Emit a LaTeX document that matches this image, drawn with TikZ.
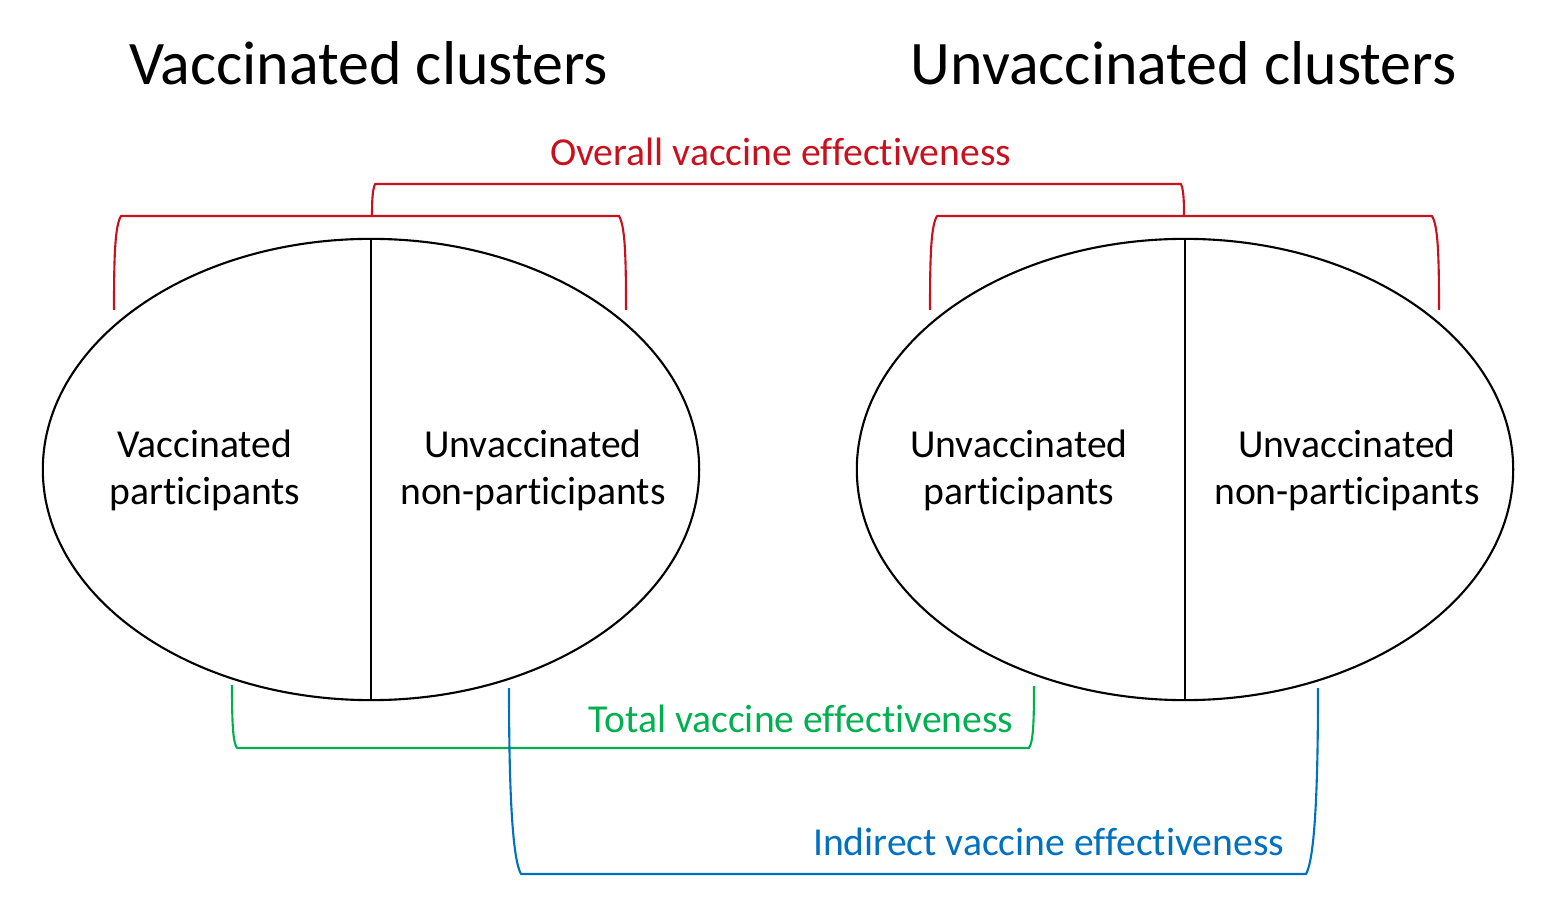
\documentclass[tikz,border=0pt]{standalone}
\usepackage{fontspec}
\setmainfont{Carlito}[Ligatures={NoCommon,NoContextual},Contextuals=NoAlternate,RawFeature=-dlig]
\usetikzlibrary{shapes.geometric}
\definecolor{ovred}{RGB}{200,16,30}
\definecolor{totgreen}{RGB}{0,176,80}
\definecolor{indblue}{RGB}{0,112,192}
\tikzset{
  cluster/.style={draw=black, line width=0.6pt, ellipse, minimum width=6.56cm, minimum height=4.61cm, inner sep=0pt},
  divider/.style={draw=black, line width=0.6pt},
  title/.style={anchor=base, inner sep=0pt, font=\fontsize{17.6}{20}\selectfont},
  group/.style={anchor=base, inner sep=0pt, align=center, font=\fontsize{11.27}{13.4}\selectfont},
  label/.style={anchor=base, inner sep=0pt, font=\fontsize{11.27}{13.4}\selectfont},
  bracket/.style={line width=0.6pt, line join=round}
}
\begin{document}
\begin{tikzpicture}[x=0.01cm, y=-0.01cm]
\useasboundingbox (0,0) rectangle (1558,922);
% clusters
\node[cluster] (e1) at (371,469.5) {};
\node[cluster] (e2) at (1185,469.5) {};
\draw[divider] (e1.north) -- (e1.south);
\draw[divider] (e2.north) -- (e2.south);
% titles
\node[title] (t1) at (368.5,85) {Vaccinated clusters};
\node[title] (t2) at (1183.5,85) {Unvaccinated clusters};
% group texts (base anchor = baseline of the last line)
\node[group] (g1) at (205,505) {Vaccinated\\participants};
\node[group] (g2) at (533,505) {Unvaccinated\\non-participants};
\node[group] (g3) at (1019,505) {Unvaccinated\\participants};
\node[group] (g4) at (1347,505) {Unvaccinated\\non-participants};
% labels
\node[label, text=ovred] (lo) at (780.5,166) {Overall vaccine effectiveness};
\node[label, text=totgreen] (lt) at (801,732) {Total vaccine effectiveness};
\node[label, text=indblue] (li) at (1048.5,855) {Indirect vaccine effectiveness};
% red brackets
\draw[bracket, ovred] (114,310) .. controls (114,255) and (115,226) .. (121,216)
  -- (619,216) .. controls (625,226) and (626,255) .. (626,310);
\draw[bracket, ovred] (930,310) .. controls (930,255) and (931,226) .. (937,216)
  -- (1432,216) .. controls (1438,226) and (1439,255) .. (1439,310);
\draw[bracket, ovred] (372,216) .. controls (372,200) and (372.5,190) .. (375,184)
  -- (1181,184) .. controls (1183.5,190) and (1184,200) .. (1184,216);
% green bracket
\draw[bracket, totgreen] (232,685) .. controls (232,725) and (233,742) .. (237,748)
  -- (1029,748) .. controls (1033,742) and (1034,725) .. (1034,686);
% blue bracket
\draw[bracket, indblue] (509,688) .. controls (509,800) and (513,860) .. (521,874)
  -- (1306,874) .. controls (1314,860) and (1318,800) .. (1318,688);
\end{tikzpicture}
\end{document}
